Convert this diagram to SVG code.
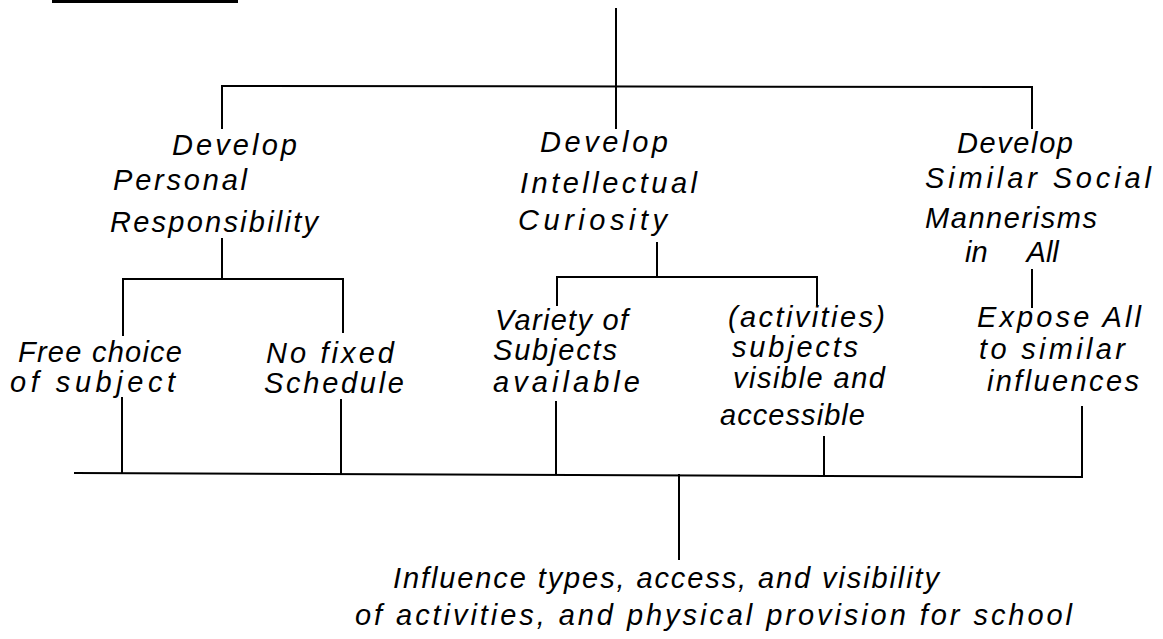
<svg xmlns="http://www.w3.org/2000/svg" width="1163" height="639" viewBox="0 0 1163 639">
<style>
.t{font-family:"Liberation Sans",Arial,sans-serif;font-style:italic;font-size:29px;fill:#000}
.c line{stroke:#000;stroke-width:2;stroke-linecap:square}
</style>
<rect width="1163" height="639" fill="#fff"/>
<line x1="52" y1="1.5" x2="238" y2="1.5" stroke="#000" stroke-width="3"/>
<g id="connectors" class="c">
<line x1="616" y1="9" x2="616" y2="128"/>
<line x1="222" y1="86" x2="1032" y2="87"/>
<line x1="222" y1="86" x2="222" y2="128"/>
<line x1="1032" y1="87" x2="1032" y2="128"/>
<line x1="222" y1="239" x2="222" y2="279"/>
<line x1="123" y1="279" x2="343" y2="279"/>
<line x1="123" y1="279" x2="123" y2="335"/>
<line x1="343" y1="279" x2="343" y2="332"/>
<line x1="657" y1="243" x2="657" y2="277"/>
<line x1="557" y1="277" x2="817" y2="277"/>
<line x1="557" y1="277" x2="557" y2="305"/>
<line x1="817" y1="277" x2="817" y2="305"/>
<line x1="1032" y1="270" x2="1032" y2="307"/>
<line x1="122" y1="398" x2="122" y2="473"/>
<line x1="341" y1="400" x2="341" y2="474"/>
<line x1="556" y1="402" x2="556" y2="474"/>
<line x1="824" y1="437" x2="824" y2="475"/>
<line x1="1082" y1="407" x2="1082" y2="477"/>
<line x1="75" y1="473" x2="1082" y2="477"/>
<line x1="679" y1="475" x2="679" y2="559"/>
</g>
<g id="personal">
<text class="t" x="172" y="155" textLength="125" lengthAdjust="spacing">Develop</text>
<text class="t" x="113" y="190" textLength="134" lengthAdjust="spacing">Personal</text>
<text class="t" x="110" y="232" textLength="208" lengthAdjust="spacing">Responsibility</text>
</g>
<g id="intellectual">
<text class="t" x="540" y="152" textLength="128" lengthAdjust="spacing">Develop</text>
<text class="t" x="520" y="193" textLength="177" lengthAdjust="spacing">Intellectual</text>
<text class="t" x="518" y="230" textLength="149" lengthAdjust="spacing">Curiosity</text>
</g>
<g id="social">
<text class="t" x="957" y="153" textLength="116" lengthAdjust="spacing">Develop</text>
<text class="t" x="925" y="188" textLength="226" lengthAdjust="spacing">Similar Social</text>
<text class="t" x="925" y="228" textLength="172" lengthAdjust="spacing">Mannerisms</text>
<text class="t" x="965" y="262" word-spacing="32">in All</text>
</g>
<g id="free-choice">
<text class="t" x="18" y="362" textLength="164" lengthAdjust="spacing">Free choice</text>
<text class="t" x="10" y="392" textLength="165" lengthAdjust="spacing">of subject</text>
</g>
<g id="no-fixed">
<text class="t" x="266" y="363" textLength="128" lengthAdjust="spacing">No fixed</text>
<text class="t" x="264" y="393" textLength="140" lengthAdjust="spacing">Schedule</text>
</g>
<g id="variety">
<text class="t" x="495" y="330" textLength="133" lengthAdjust="spacing">Variety of</text>
<text class="t" x="493" y="360" textLength="124" lengthAdjust="spacing">Subjects</text>
<text class="t" x="493" y="392" textLength="147" lengthAdjust="spacing">available</text>
</g>
<g id="activities">
<text class="t" x="728" y="327" textLength="157" lengthAdjust="spacing">(activities)</text>
<text class="t" x="732" y="357" textLength="126" lengthAdjust="spacing">subjects</text>
<text class="t" x="733" y="388" textLength="152" lengthAdjust="spacing">visible and</text>
<text class="t" x="720" y="425" textLength="145" lengthAdjust="spacing">accessible</text>
</g>
<g id="expose">
<text class="t" x="977" y="327" textLength="164" lengthAdjust="spacing">Expose All</text>
<text class="t" x="979" y="359" textLength="146" lengthAdjust="spacing">to similar</text>
<text class="t" x="987" y="391" textLength="152" lengthAdjust="spacing">influences</text>
</g>
<g id="influence">
<text class="t" x="393" y="588" textLength="546" lengthAdjust="spacing">Influence types, access, and visibility</text>
<text class="t" x="355" y="625" textLength="717" lengthAdjust="spacing">of activities, and physical provision for school</text>
</g>
</svg>
